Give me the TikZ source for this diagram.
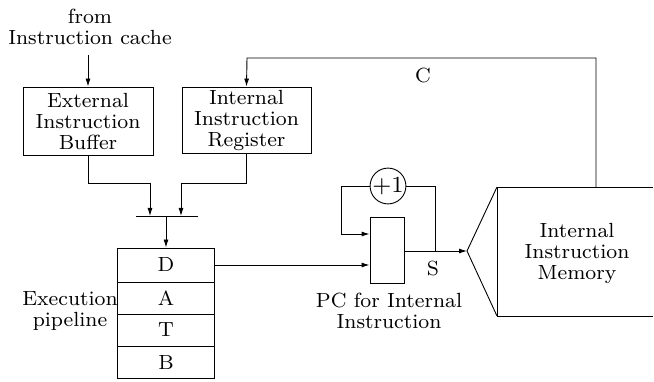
\documentclass[tikz,border=0pt]{standalone}
\usepackage{fontspec}
\setmainfont{lmroman8-regular.otf}
\usetikzlibrary{arrows.meta}
\begin{document}
\begin{tikzpicture}[x=1pt,y=-1pt,
  font=\fontsize{20.5}{21}\selectfont,
  line width=0.9pt,
  arr/.style={-{Latex[length=8pt,width=5pt]}},
  blk/.style={draw,align=center,inner sep=0pt},
  txt/.style={align=center,inner sep=0pt}]
\useasboundingbox (0,0) rectangle (654,382);
% top text and boxes
\node[txt] (src) at (90,27) {from\\Instruction cache};
\coordinate (srcend) at (88,55);
\node[blk,minimum width=130pt,minimum height=68pt] (ext) at (88,121) {External\\Instruction\\Buffer};
\node[blk,minimum width=129pt,minimum height=66pt] (reg) at (246.5,120) {Internal\\Instruction\\Register};
\draw[arr] (srcend) -- (ext.north);
% merge bar
\coordinate (barL) at (136,216);
\coordinate (barR) at (198,216);
\coordinate (bar) at (166,216);
\coordinate (bin1) at (150,216);
\coordinate (bin2) at (181,216);
\draw (barL) -- (barR);
\draw[arr] (ext.south) |- (150,183) -- (bin1);
\draw[arr] (reg.south) |- (181,183) -- (bin2);
% pipeline
\node[blk,minimum width=97pt,minimum height=34pt] (D) at (166,265) {D};
\node[blk,minimum width=97pt,minimum height=32pt] (A) at (166,298) {A};
\node[blk,minimum width=97pt,minimum height=32pt] (T) at (166,330) {T};
\node[blk,minimum width=97pt,minimum height=32pt] (B) at (166,362) {B};
\draw[arr] (bar) -- (D.north);
\node[txt] (exlab) at (70,311) {Execution\\pipeline};
% PC
\node[blk,minimum width=34pt,minimum height=66pt] (pc) at (387,250) {};
\node[txt] (pclab) at (389,311) {PC for Internal\\Instruction};
\draw[arr] (D.east) -- (D.east -| pc.west);
\node[draw,circle,inner sep=0pt,minimum size=30pt,font=\fontsize{23}{24}\selectfont] (plus) at (388,186) {+1};
\coordinate (apex) at (467,251);
\coordinate (tap) at (435,251);
\draw[arr] (pc.east |- apex) -- (apex);
\draw (tap) |- (plus.east);
\coordinate (fbl) at (341,234);
\draw[arr] (plus.west) -| (fbl) -- (fbl -| pc.west);
\node[txt] (S) at (433,269) {S};
% memory
\coordinate (mtl) at (497,187);
\coordinate (mbl) at (497,316);
\draw (mtl) -- (apex) -- (mbl);
\draw (653,187) -- (mtl) -- (mbl) -- (653,316);
\node[txt] (mem) at (577,253) {Internal\\Instruction\\Memory};
% C feedback
\coordinate (cstart) at (596,187);
\draw[arr] (cstart) |- (247,58) -- (reg.north);
\node[txt] (C) at (423,76) {C};
\end{tikzpicture}
\end{document}
